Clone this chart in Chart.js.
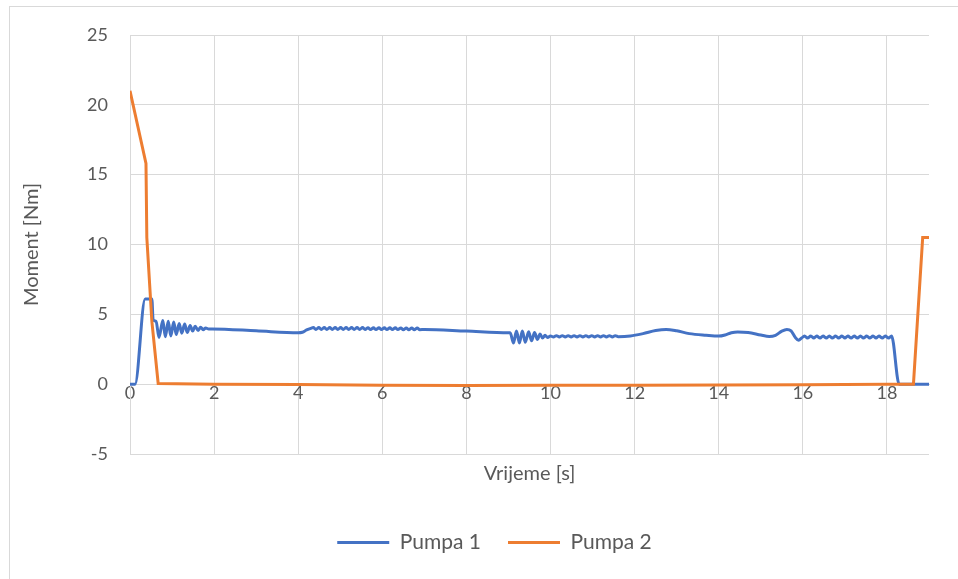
<!DOCTYPE html>
<html>
<head>
<meta charset="utf-8">
<script src="https://cdn.jsdelivr.net/npm/chart.js@4/dist/chart.umd.min.js"></script>
<style>
  html, body { margin: 0; padding: 0; background: #fff; }
  #frame {
    position: absolute; left: 9px; top: 6px; width: 949px; height: 573px;
    border-left: 1px solid #d9d9d9; border-top: 1px solid #d9d9d9;
  }
  #chart { position: absolute; left: 0; top: 0; }
</style>
</head>
<body>
<div id="frame"></div>
<canvas id="chart" width="958" height="579"></canvas>
<script>
// Pumpa 1 (plava)
const pumpa1Time = [
  0, 0.12, 0.36, 0.52, 0.55, 0.62,
  0.69, 0.78, 0.84, 0.91, 0.97, 1.04, 1.10, 1.17, 1.23, 1.30, 1.36, 1.43, 1.49, 1.55, 1.62, 1.68, 1.74, 1.80, 1.87, 1.95,
  3.0, 4.0, 4.1, 4.2, 4.3,
  4.36, 4.42, 4.49, 4.55, 4.62, 4.68, 4.75, 4.81, 4.88, 4.94,
  5.01, 5.07, 5.14, 5.20, 5.27, 5.33, 5.40, 5.46, 5.53, 5.59,
  5.66, 5.72, 5.79, 5.85, 5.92, 5.98, 6.05, 6.11, 6.18, 6.24,
  6.31, 6.37, 6.44, 6.50, 6.57, 6.63, 6.70, 6.76, 6.83, 6.89,
  7.0, 8.0, 9.0, 9.04,
  9.12, 9.19, 9.26, 9.33, 9.40, 9.48, 9.55, 9.62, 9.69, 9.75, 9.81, 9.87, 9.93, 10.0,
  10.07, 10.14, 10.21, 10.28, 10.35, 10.42, 10.49, 10.56, 10.63, 10.70, 10.77, 10.84,
  10.91, 10.98, 11.05, 11.12, 11.19, 11.26, 11.33, 11.40, 11.47, 11.54, 11.61,
  11.9, 12.2, 12.5, 12.75, 13.0, 13.3, 13.7, 14.0, 14.15, 14.3, 14.45, 14.7,
  15.0, 15.2, 15.35, 15.5, 15.62, 15.72, 15.82, 15.9, 15.97,
  16.04, 16.11, 16.19, 16.26, 16.33, 16.41, 16.48, 16.56, 16.63, 16.70,
  16.78, 16.85, 16.93, 17.00, 17.07, 17.15, 17.22, 17.30, 17.37, 17.44,
  17.52, 17.59, 17.67, 17.74, 17.81, 17.89, 17.96, 18.04, 18.11,
  18.29, 19.0
];
const pumpa1Moment = [
  0, 0, 6.1, 6.1, 4.6, 4.5,
  3.35, 4.55, 3.4, 4.5, 3.45, 4.45, 3.55, 4.35, 3.65, 4.3, 3.7, 4.2, 3.8, 4.15, 3.85, 4.08, 3.9, 4.02, 3.95, 3.95,
  3.82, 3.68, 3.72, 3.88, 4.0,
  4.05, 3.92, 4.05, 3.92, 4.05, 3.92, 4.05, 3.92, 4.05, 3.92,
  4.05, 3.92, 4.05, 3.92, 4.05, 3.92, 4.05, 3.92, 4.05, 3.92,
  4.04, 3.91, 4.04, 3.91, 4.04, 3.91, 4.04, 3.91, 4.04, 3.91,
  4.04, 3.91, 4.02, 3.9, 4.02, 3.9, 4.02, 3.9, 4.02, 3.9,
  3.92, 3.8, 3.68, 3.68,
  2.95, 3.8, 2.95, 3.8, 3.0, 3.75, 3.1, 3.7, 3.2, 3.6, 3.3, 3.5, 3.35, 3.45,
  3.38, 3.47, 3.38, 3.47, 3.38, 3.47, 3.38, 3.47, 3.38, 3.47, 3.38, 3.47,
  3.38, 3.47, 3.38, 3.47, 3.38, 3.47, 3.38, 3.47, 3.38, 3.47, 3.40,
  3.45, 3.62, 3.84, 3.92, 3.82, 3.62, 3.5, 3.44, 3.52, 3.68, 3.74, 3.7,
  3.52, 3.42, 3.5, 3.8, 3.92, 3.82, 3.35, 3.15, 3.3,
  3.45, 3.3, 3.45, 3.3, 3.45, 3.3, 3.45, 3.3, 3.45, 3.3,
  3.45, 3.3, 3.45, 3.3, 3.45, 3.3, 3.45, 3.3, 3.45, 3.3,
  3.45, 3.3, 3.45, 3.3, 3.45, 3.3, 3.45, 3.3, 3.45,
  0, 0
];

// Pumpa 2 (narancasta)
const pumpa2Time = [0, 0.38, 0.40, 0.52, 0.67, 2, 4, 6, 8, 10, 12, 14, 16, 18, 18.63, 18.85, 19];
const pumpa2Moment = [21.0, 15.8, 10.5, 4.5, 0.05, 0.0, -0.02, -0.08, -0.1, -0.08, -0.07, -0.06, -0.04, -0.01, 0.0, 10.5, 10.5];

const xTicks = [0, 2, 4, 6, 8, 10, 12, 14, 16, 18];
const yTicks = [-5, 0, 5, 10, 15, 20, 25];

const toPoints = (t, v) => t.map((x, i) => ({ x: x, y: v[i] }));

const FONT = 'Lato, "Open Sans", sans-serif';
const TEXT = '#595959';
const GRID = '#d9d9d9';

new Chart(document.getElementById('chart'), {
  type: 'line',
  data: {
    datasets: [
      {
        label: 'Pumpa 1',
        data: toPoints(pumpa1Time, pumpa1Moment),
        borderColor: '#4472C4',
        backgroundColor: '#4472C4',
        borderWidth: 3,
        pointRadius: 0,
        cubicInterpolationMode: 'monotone',
        order: 2
      },
      {
        label: 'Pumpa 2',
        data: toPoints(pumpa2Time, pumpa2Moment),
        borderColor: '#ED7D31',
        backgroundColor: '#ED7D31',
        borderWidth: 3,
        pointRadius: 0,
        tension: 0,
        order: 1
      }
    ]
  },
  options: {
    responsive: false,
    animation: false,
    // lijevi razmak od 60 px centrira legendu kao u originalu
    layout: { padding: { top: 35, right: 29, left: 60, bottom: 16 } },
    scales: {
      x: {
        type: 'linear',
        position: { y: 0 },
        min: 0,
        max: 19,
        afterBuildTicks: s => { s.ticks = xTicks.map(v => ({ value: v })); },
        ticks: { color: TEXT, font: { family: FONT, size: 18 }, padding: -2 },
        grid: { color: GRID, lineWidth: 1, drawTicks: false },
        border: { color: GRID, width: 1 }
      },
      x2: {
        type: 'linear',
        axis: 'x',
        position: 'bottom',
        min: 0,
        max: 19,
        ticks: { display: false },
        grid: { display: false, drawTicks: false },
        border: { display: false },
        title: {
          display: true,
          text: 'Vrijeme [s]',
          color: TEXT,
          font: { family: FONT, size: 20 },
          padding: { top: 0, bottom: 19 }
        },
        afterFit: s => { s.height = 51; }
      },
      y: {
        min: -5,
        max: 25,
        afterBuildTicks: s => { s.ticks = yTicks.map(v => ({ value: v })); },
        ticks: { color: TEXT, font: { family: FONT, size: 18 }, padding: 22 },
        grid: { color: GRID, lineWidth: 1, drawTicks: false },
        border: { color: GRID, width: 1 },
        title: {
          display: true,
          text: 'Moment [Nm]',
          color: TEXT,
          font: { family: FONT, size: 20 },
          padding: { top: -40, bottom: 0 }
        },
        afterFit: s => { s.width = 70; }
      }
    },
    plugins: {
      legend: {
        position: 'bottom',
        labels: {
          color: TEXT,
          font: { family: FONT, size: 21 },
          usePointStyle: true,
          pointStyle: 'line',
          pointStyleWidth: 52,
          padding: 27,
          sort: (a, b) => a.datasetIndex - b.datasetIndex
        }
      },
      tooltip: { enabled: false }
    }
  }
});
</script>
</body>
</html>
